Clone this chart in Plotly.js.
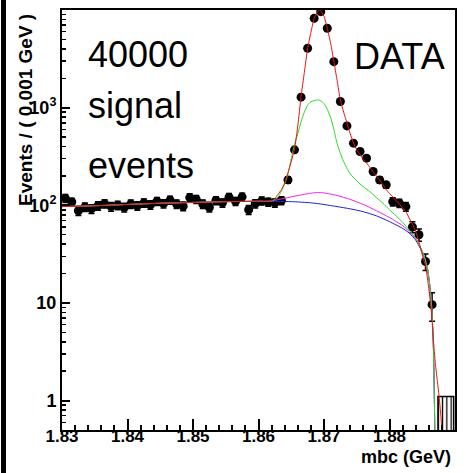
<!DOCTYPE html>
<html>
<head>
<meta charset="utf-8">
<script src="https://cdn.plot.ly/plotly-3.0.1.min.js"></script>
<style>
html,body{margin:0;padding:0;background:#fff;}
#chart{width:466px;height:473px;}
</style>
</head>
<body>
<div id="chart"></div>
<script>
// ---- data ----
const binCenters = [
  1.8305,1.8315,1.8325,1.8335,1.8345,1.8355,1.8365,1.8375,1.8385,1.8395,
  1.8405,1.8415,1.8425,1.8435,1.8445,1.8455,1.8465,1.8475,1.8485,1.8495,
  1.8505,1.8515,1.8525,1.8535,1.8545,1.8555,1.8565,1.8575,1.8585,1.8595,
  1.8605,1.8615,1.8625,1.8635,1.8645,1.8655,1.8665,1.8675,1.8685,1.8695,
  1.8705,1.8715,1.8725,1.8735,1.8745,1.8755,1.8765,1.8775,1.8785,1.8795,
  1.8805,1.8815,1.8825,1.8835,1.8845,1.8855,1.8865
];
const counts = [
  118,108,88,96,92,99,104,97,100,95,
  103,99,106,101,110,104,113,103,98,120,
  115,103,95,112,106,121,110,122,90,104,
  111,108,106,112,182,370,1280,4055,8220,9610,
  6500,2960,1155,650,433,356,304,222,182,162,
  109,105,97,60,50,26.6,9.6
];

// background (blue)
const bkgX = [1.830,1.835,1.840,1.845,1.850,1.855,1.860,1.865,1.868,1.870,1.872,1.874,1.876,1.878,1.880,1.882,1.883,1.884,1.885,1.8855,1.886,1.8863,1.8865,1.8867,1.8868,1.8869,1.8870];
const bkgY = [97,99,102,105,107,109,110,109,106,102,97,92,86,78,68,58,52,44,33,27,18,12,8,3.5,1.7,0.6,0.2];

// background + peaking component (magenta)
const peakX = [1.830,1.835,1.840,1.845,1.850,1.855,1.860,1.862,1.864,1.866,1.868,1.869,1.870,1.872,1.874,1.876,1.878,1.880,1.882,1.883,1.884,1.885,1.8855,1.886,1.8863,1.8865,1.8867,1.8868,1.8869,1.8870];
const peakY = [97,99,102,105,107,109,110,111,118,126,133,135,134,126,115,102,88,75,62,54,45,34,27,18.5,12,8,3.5,1.7,0.6,0.2];

// signal + background (green)
const sigX = [1.830,1.835,1.840,1.845,1.850,1.855,1.860,1.862,1.863,1.864,1.8645,1.865,1.8655,1.866,1.8665,1.867,1.8675,1.868,1.869,1.8695,1.870,1.8705,1.871,1.8715,1.872,1.8725,1.873,1.874,1.875,1.876,1.877,1.878,1.879,1.880,1.881,1.882,1.883,1.884,1.885,1.8855,1.886,1.8863,1.8865,1.8867,1.8868,1.8869,1.8870];
const sigY = [97,99,102,105,107,109,110,110,122,165,210,300,420,540,720,900,1060,1150,1200,1180,1100,960,800,600,430,340,280,210,178,155,138,120,105,90,78,67,56,46,34,27,18.5,12,8,3.5,1.7,0.6,0.2];

// total fit (red)
const totX = [1.830,1.835,1.840,1.845,1.850,1.855,1.860,1.862,1.8625,1.863,1.8635,1.864,1.8645,1.865,1.8655,1.866,1.8665,1.867,1.8675,1.868,1.8685,1.869,1.8694,1.870,1.8705,1.871,1.8715,1.872,1.8725,1.873,1.8735,1.874,1.8745,1.875,1.8755,1.876,1.8765,1.877,1.8775,1.878,1.8785,1.879,1.8795,1.880,1.8805,1.881,1.8815,1.882,1.8826,1.883,1.8835,1.884,1.8845,1.885,1.8855,1.886,1.8864,1.8867,1.8870,1.8873,1.8876,1.8878,1.8880,1.8882];
const totY = [97,99,102,105,107,109,110,111,118,130,145,170,215,280,380,650,1300,2300,4000,5900,8200,9600,10000,8600,6500,4600,3000,1900,1200,900,700,540,435,370,330,295,270,245,220,200,182,162,145,132,122,112,103,94,84,74,64,54,42,31,24,14,8,4.2,2.4,1.6,1.05,0.75,0.5,0.3];

// empty-bin hatch at the kinematic end point
const hatchX = [1.8886];
const hatchW = [0.0024];
const hatchY = [1.1];

// tick labels / texts
const yTickVals = [1, 10, 100, 1000, 10000];
const labelLines = ["40000", "signal", "events"];
const dataLabel = "DATA";
const xTitle = "mbc (GeV)";
const yTitle = "Events / ( 0.001 GeV )";

// ---- plot ----
const FONT = "Liberation Sans, Arial, Helvetica, sans-serif";
const L = 62, R = 11, T = 10, B = 43, W = 466, H = 473;
const pw = W - L - R, ph = H - T - B;
const px = v => (v - L) / pw;      // pixel -> paper x
const py = v => (H - B - v) / ph;  // pixel -> paper y

const lineTrace = (x, y, color) => ({
  x: x, y: y, type: 'scatter', mode: 'lines',
  line: {color: color, width: 1, shape: 'spline', smoothing: 0.6},
  hoverinfo: 'skip', cliponaxis: true
});

const traces = [
  {
    x: hatchX, y: hatchY, width: hatchW, type: 'bar',
    marker: {color: 'white', line: {color: 'black', width: 1.5},
      pattern: {shape: '|', size: 4.3, solidity: 0.3, fgcolor: 'black', bgcolor: 'white'}},
    hoverinfo: 'skip'
  },
  {
    x: binCenters, y: counts, type: 'scatter', mode: 'markers',
    marker: {color: 'black', size: 9, symbol: 'circle'},
    error_y: {type: 'sqrt', color: 'black', thickness: 1.5, width: 3},
    cliponaxis: true
  },
  lineTrace(bkgX, bkgY, '#1f1fd0'),
  lineTrace(peakX, peakY, '#f020f0'),
  lineTrace(sigX, sigY, '#22dd22'),
  lineTrace(totX, totY, '#ee1111')
];

const annotations = [
  {text: labelLines[0], x: px(86), y: py(55), xanchor: 'left', yanchor: 'middle'},
  {text: labelLines[1], x: px(86), y: py(106), xanchor: 'left', yanchor: 'middle'},
  {text: labelLines[2], x: px(86), y: py(165), xanchor: 'left', yanchor: 'middle'},
  {text: dataLabel, x: px(352), y: py(56), xanchor: 'left', yanchor: 'middle'}
].map(a => Object.assign(a, {xref: 'paper', yref: 'paper', showarrow: false,
  font: {family: FONT, size: 36, color: 'black'}}));

annotations.push({
  text: yTitle, x: px(25), y: py(110), xref: 'paper', yref: 'paper',
  xanchor: 'center', yanchor: 'middle', textangle: -90, showarrow: false,
  font: {family: FONT, size: 19, color: 'black', weight: 'bold'}
});
annotations.push({
  text: xTitle, x: px(453), y: py(457), xref: 'paper', yref: 'paper',
  xanchor: 'right', yanchor: 'middle', showarrow: false,
  font: {family: FONT, size: 18, color: 'black', weight: 'bold'}
});

const layout = {
  width: W, height: H,
  margin: {l: L, r: R, t: T, b: B, pad: 0},
  paper_bgcolor: 'white', plot_bgcolor: 'white',
  showlegend: false,
  bargap: 0,
  xaxis: {
    range: [1.83, 1.89], tick0: 1.83, dtick: 0.01, tickformat: '.2f',
    ticks: 'inside', ticklen: 11, tickwidth: 2, tickcolor: 'black',
    ticklabelstandoff: -10,
    minor: {dtick: 0.002, ticks: 'inside', ticklen: 5, tickwidth: 2, tickcolor: 'black', showgrid: false},
    showline: true, linewidth: 2, linecolor: 'black', mirror: true,
    showgrid: false, zeroline: false,
    tickfont: {family: FONT, size: 17, color: 'black', weight: 'bold'}
  },
  yaxis: {
    type: 'log', range: [Math.log10(0.5), 4],
    tickmode: 'array', tickvals: yTickVals,
    ticktext: yTickVals.map(v => { const p = Math.round(Math.log10(v)); return p === 0 ? '1' : (p === 1 ? '10' : '10<sup>' + p + '</sup>'); }),
    ticks: 'inside', ticklen: 8, tickwidth: 2, tickcolor: 'black',
    minor: {dtick: 'D1', ticks: 'inside', ticklen: 4, tickwidth: 1.5, tickcolor: 'black', showgrid: false},
    showline: true, linewidth: 2, linecolor: 'black', mirror: true,
    showgrid: false, zeroline: false,
    tickfont: {family: FONT, size: 18, color: 'black', weight: 'bold'}
  },
  annotations: annotations,
  shapes: [{
    type: 'rect', xref: 'paper', yref: 'paper',
    x0: px(1), x1: px(6), y0: py(473), y1: py(0),
    fillcolor: 'black', line: {width: 0}
  }]
};

Plotly.newPlot('chart', traces, layout, {displayModeBar: false, staticPlot: true});
</script>
</body>
</html>
